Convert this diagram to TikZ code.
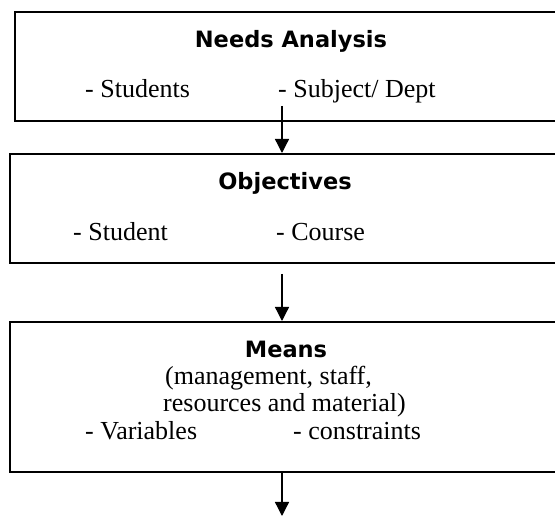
\documentclass[tikz,border=0pt]{standalone}
\usepackage{fontspec}
\setmainfont{Liberation Serif}
\newfontfamily\headfont{DejaVu Sans}
\usetikzlibrary{arrows.meta}

\begin{document}
\begin{tikzpicture}[
        x=1pt, y=-1pt,
        >={Triangle[width=14pt,length=14pt]},
        box/.style={rectangle, draw=black, line width=2pt, inner sep=0pt},
        head/.style={font=\headfont\bfseries\fontsize{22.5}{27}\selectfont, anchor=base, inner sep=0pt},
        item/.style={font=\fontsize{26}{28}\selectfont, anchor=base west, inner sep=0pt},
        line/.style={font=\fontsize{26}{28}\selectfont, anchor=base, inner sep=0pt},
        link/.style={->, line width=1.3pt},
        ]
        \useasboundingbox (0,0) rectangle (555,518);

        \node (needs) at (295,66.5) [box, minimum width=560pt, minimum height=109pt] {};
        \node (objectives) at (292.5,208.5) [box, minimum width=565pt, minimum height=109pt] {};
        \node (means) at (292.5,397) [box, minimum width=565pt, minimum height=150pt] {};

        \node (needstitle) at (291,48) [head] {Needs Analysis};
        \node (students) at (85,98) [item] {- Students};
        \node (subject) at (278,98) [item] {- Subject/ Dept};

        \node (objtitle) at (285,190) [head] {Objectives};
        \node (student) at (73,241) [item] {- Student};
        \node (course) at (276,241) [item] {- Course};

        \node (meanstitle) at (286,358) [head] {Means};
        \node (mgmt) at (268.5,385) [line] {(management, staff,};
        \node (resources) at (284.5,412) [line] {resources and material)};
        \node (variables) at (85,440) [item] {- Variables};
        \node (constraints) at (293,440) [item] {- constraints};

        \coordinate (spine) at (282,0);
        \coordinate (tail) at (282,516);

        \draw[link, shorten <=-16pt] (needs.south -| spine) -- (objectives.north -| spine);
        \draw[link, shorten <=10pt] (objectives.south -| spine) -- (means.north -| spine);
        \draw[link] (means.south -| spine) -- (tail);
    \end{tikzpicture}
\end{document}
